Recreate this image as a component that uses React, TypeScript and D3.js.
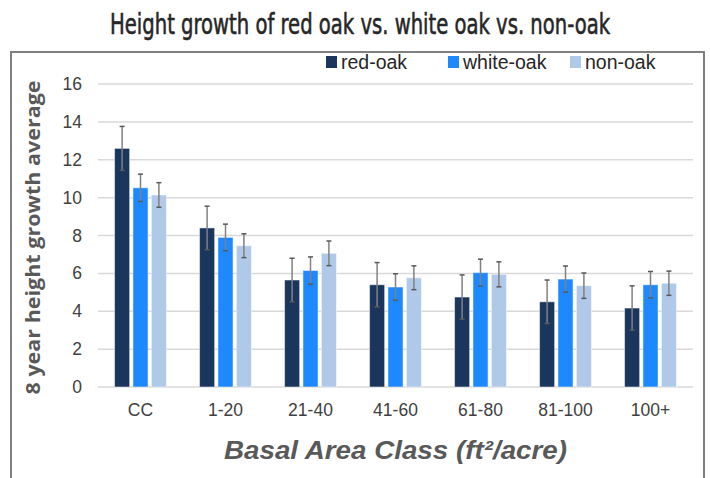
import React from "react";
import { scaleBand, scaleLinear } from "d3";

const categories = ["CC", "1-20", "21-40", "41-60", "61-80", "81-100", "100+"];
const seriesNames = ["red-oak", "white-oak", "non-oak"];
const redOak = [12.6, 8.4, 5.65, 5.4, 4.75, 4.5, 4.17];
const whiteOak = [10.52, 7.9, 6.15, 5.28, 6.04, 5.7, 5.4];
const nonOak = [10.14, 7.46, 7.06, 5.77, 5.95, 5.35, 5.48];
const redErr = [1.16, 1.15, 1.15, 1.17, 1.17, 1.15, 1.17];
const whiteErr = [0.72, 0.7, 0.72, 0.7, 0.71, 0.69, 0.7];
const nonErr = [0.65, 0.63, 0.65, 0.63, 0.66, 0.67, 0.64];
const yTicks = [0, 2, 4, 6, 8, 10, 12, 14, 16];

const seriesValues = [redOak, whiteOak, nonOak];
const seriesErrors = [redErr, whiteErr, nonErr];
const colors = ["#1b365d", "#1e88ff", "#b0c9e8"];

const W = 710;
const H = 478;
const plot = { left: 98, right: 693, top: 84, bottom: 387 };

const narrow = "'Liberation Sans Narrow', 'DejaVu Sans Condensed', 'Arial Narrow', sans-serif";
const sans = "'Liberation Sans', Arial, sans-serif";

export default function App() {
  const x0 = scaleBand<string>()
    .domain(categories)
    .range([plot.left, plot.right])
    .padding(0);

  const x1 = scaleBand<string>()
    .domain(seriesNames)
    .range([0, x0.bandwidth()])
    .paddingInner(0.18)
    .paddingOuter(0.9);

  const y = scaleLinear().domain([0, 16]).range([plot.bottom, plot.top]);

  const legendX = scaleBand<string>().domain(seriesNames).range([326, 692]);

  return (
    <div style={{ position: "absolute", left: 0, top: 0 }}>
      <svg width={W} height={H} style={{ display: "block", background: "#fff" }}>
        {/* condensed title: small font stretched vertically */}
        <text
          transform="translate(360,34) scale(1,1.4)"
          textAnchor="middle"
          fontFamily={narrow}
          fontSize={20}
          fill="#262626"
          stroke="#262626"
          strokeWidth={0.4}
          textLength={500}
          lengthAdjust="spacingAndGlyphs"
        >
          Height growth of red oak vs. white oak vs. non-oak
        </text>

        <rect x={11} y={52} width={693} height={440} fill="none" stroke="#7f7f7f" strokeWidth={2} />

        {/* grid */}
        {yTicks.map((t) => (
          <g key={t}>
            <line
              x1={plot.left}
              x2={plot.right}
              y1={y(t)}
              y2={y(t)}
              stroke="#d9d9d9"
              strokeWidth={1.5}
            />
            <text
              x={82}
              y={y(t) + 6}
              textAnchor="end"
              fontFamily={sans}
              fontSize={17.5}
              fill="#404040"
            >
              {t}
            </text>
          </g>
        ))}

        {/* bars */}
        {categories.map((c, i) => (
          <g key={c} transform={`translate(${x0(c)},0)`}>
            {seriesNames.map((s, k) => {
              const v = seriesValues[k][i];
              const e = seriesErrors[k][i];
              const bx = x1(s) as number;
              const bw = x1.bandwidth();
              const cx = bx + bw / 2;
              return (
                <g key={s}>
                  <rect
                    x={bx}
                    y={y(v)}
                    width={bw}
                    height={y(0) - y(v)}
                    fill={colors[k]}
                    stroke="rgba(255,255,255,0.5)"
                    strokeWidth={1}
                  />
                  <line x1={cx} x2={cx} y1={y(v + e)} y2={y(v - e)} stroke="#808080" strokeWidth={1.5} />
                  <line x1={cx - 2.5} x2={cx + 2.5} y1={y(v + e)} y2={y(v + e)} stroke="#595959" strokeWidth={1.5} />
                  <line x1={cx - 2.5} x2={cx + 2.5} y1={y(v - e)} y2={y(v - e)} stroke="#595959" strokeWidth={1.5} />
                </g>
              );
            })}
            <text
              x={x0.bandwidth() / 2}
              y={416}
              textAnchor="middle"
              fontFamily={sans}
              fontSize={17.5}
              fill="#404040"
            >
              {c}
            </text>
          </g>
        ))}

        {/* legend */}
        {seriesNames.map((s, k) => (
          <g key={s} transform={`translate(${legendX(s)},0)`}>
            <rect x={0} y={56} width={11} height={12} fill={colors[k]} />
            <text x={15} y={68.5} fontFamily={sans} fontSize={19.5} fill="#262626">
              {s}
            </text>
          </g>
        ))}

        {/* axis titles */}
        <text
          transform={`translate(40,${(plot.top + plot.bottom) / 2 + 2}) rotate(-90)`}
          textAnchor="middle"
          fontFamily="'Open Sans', 'Liberation Sans', sans-serif"
          fontWeight="bold"
          fontSize={19.5}
          fill="#595959"
          textLength={314}
          lengthAdjust="spacingAndGlyphs"
        >
          8 year height growth average
        </text>
        <text
          x={(plot.left + plot.right) / 2}
          y={459}
          textAnchor="middle"
          fontFamily="'Liberation Sans', Arial, sans-serif"
          fontWeight="bold"
          fontStyle="italic"
          fontSize={26}
          fill="#595959"
          textLength={343}
          lengthAdjust="spacingAndGlyphs"
        >
          Basal Area Class (ft²/acre)
        </text>
      </svg>
    </div>
  );
}
